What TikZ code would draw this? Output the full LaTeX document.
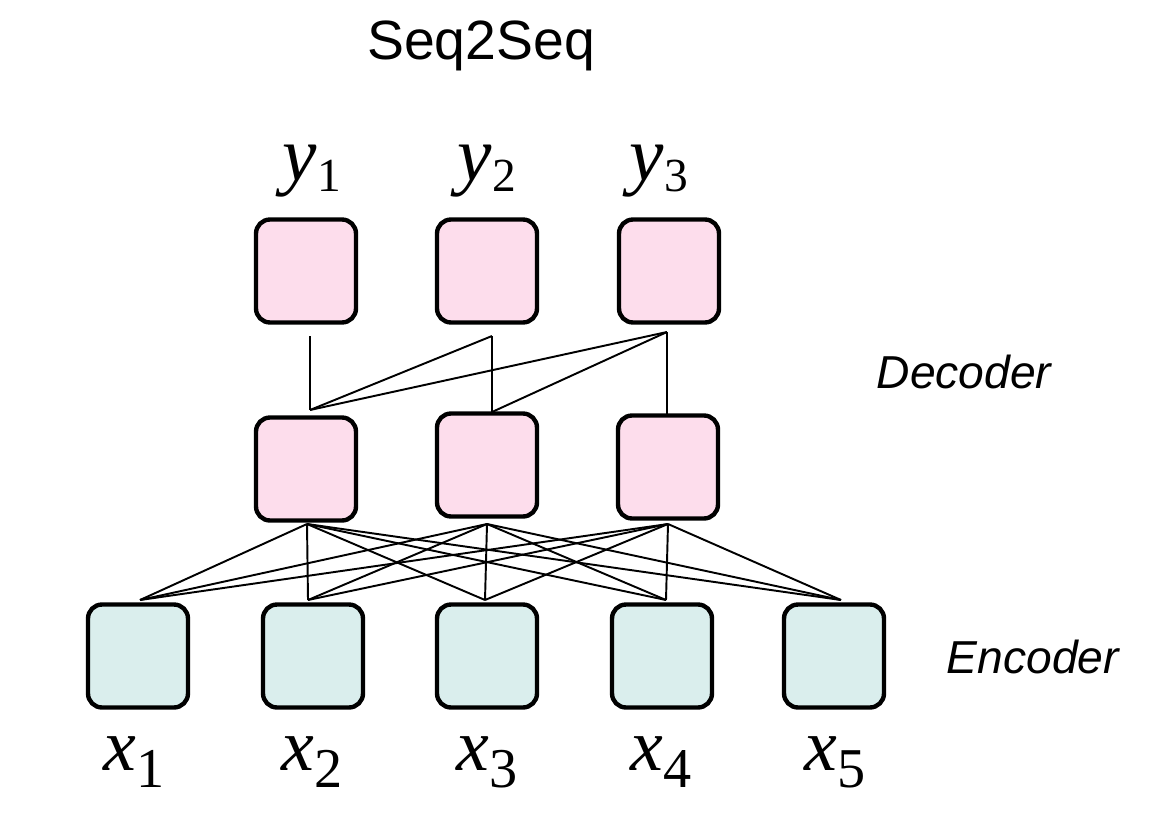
\documentclass[tikz,border=0pt]{standalone}
\usepackage{fontspec}
\setmainfont{Liberation Serif}
\newfontfamily\helv{Liberation Sans}
\usetikzlibrary{calc}
\definecolor{decpink}{RGB}{253,221,236}
\definecolor{encteal}{RGB}{218,238,237}
\newcommand\xlab[1]{\fontsize{42}{42}\selectfont\itshape x\raisebox{-9.7pt}{\fontsize{32}{32}\selectfont\upshape #1}}
\newcommand\ylab[1]{\fontsize{44}{44}\selectfont\itshape y\raisebox{-6.8pt}{\fontsize{27}{27}\selectfont\upshape #1}}
\tikzset{
  cell/.style={draw=black, line width=2.5pt, rounded corners=0.28cm,
    minimum width=2.0cm, minimum height=2.06cm, inner sep=0pt},
  dec/.style={cell, fill=decpink},
  enc/.style={cell, fill=encteal},
  wire/.style={draw=black, line width=1.1pt},
  lab/.style={anchor=base, inner sep=0pt},
  ttl/.style={anchor=base, inner sep=0pt, font=\helv\fontsize{31.5}{31.5}\selectfont},
  side/.style={anchor=base, inner sep=0pt, font=\helv\itshape\fontsize{26.3}{26.3}\selectfont}
}
\begin{document}
\begin{tikzpicture}[x=0.02cm, y=-0.02cm]
\useasboundingbox (0,0) rectangle (1176,828);
% title and side labels
\node[ttl] (title) at (481,60) {Seq2Seq};
\node[side] (declab) at (964,388) {Decoder};
\node[side] (enclab) at (1033,673) {Encoder};
% top decoder boxes
\node[dec] (t1) at (306,271) {};
\node[dec] (t2) at (487,271) {};
\node[dec] (t3) at (669,271) {};
% middle decoder boxes
\node[dec] (m1) at (306,469) {};
\node[dec] (m2) at (487,465) {};
\node[dec] (m3) at (668,467) {};
% encoder boxes
\node[enc] (e1) at (138,656) {};
\node[enc] (e2) at (313,656) {};
\node[enc] (e3) at (487,656) {};
\node[enc] (e4) at (662,656) {};
\node[enc] (e5) at (834,656) {};
% labels
\node[lab] (y1) at (312,180) {\ylab{1}};
\node[lab] (y2) at (487,180) {\ylab{2}};
\node[lab] (y3) at (659,180) {\ylab{3}};
\node[lab] (x1) at (134,770) {\xlab{1}};
\node[lab] (x2) at (312,770) {\xlab{2}};
\node[lab] (x3) at (487,770) {\xlab{3}};
\node[lab] (x4) at (661,770) {\xlab{4}};
\node[lab] (x5) at (835,770) {\xlab{5}};
% connector end points
\coordinate (tb1) at (310,336);
\coordinate (tb2) at (492,336);
\coordinate (tb3) at (667,332);
\coordinate (mt1) at (310,410);
\coordinate (mt2) at (492,412);
\coordinate (mt3) at (667,414);
\coordinate (mb1) at (307,524);
\coordinate (mb2) at (487,524);
\coordinate (mb3) at (668,524);
\coordinate (et1) at (140,600);
\coordinate (et2) at (308,600);
\coordinate (et3) at (485,600);
\coordinate (et4) at (666,600);
\coordinate (et5) at (841,600);
% decoder connections (causal)
\draw[wire] (mt1) -- (tb1);
\draw[wire] (mt1) -- (tb2);
\draw[wire] (mt1) -- (tb3);
\draw[wire] (mt2) -- (tb2);
\draw[wire] (mt2) -- (tb3);
\draw[wire] (mt3) -- (tb3);
% encoder-decoder connections (full)
\foreach \m in {1,2,3}{
  \foreach \e in {1,...,5}{
    \draw[wire] (mb\m) -- (et\e);
  }
}
\end{tikzpicture}
\end{document}
